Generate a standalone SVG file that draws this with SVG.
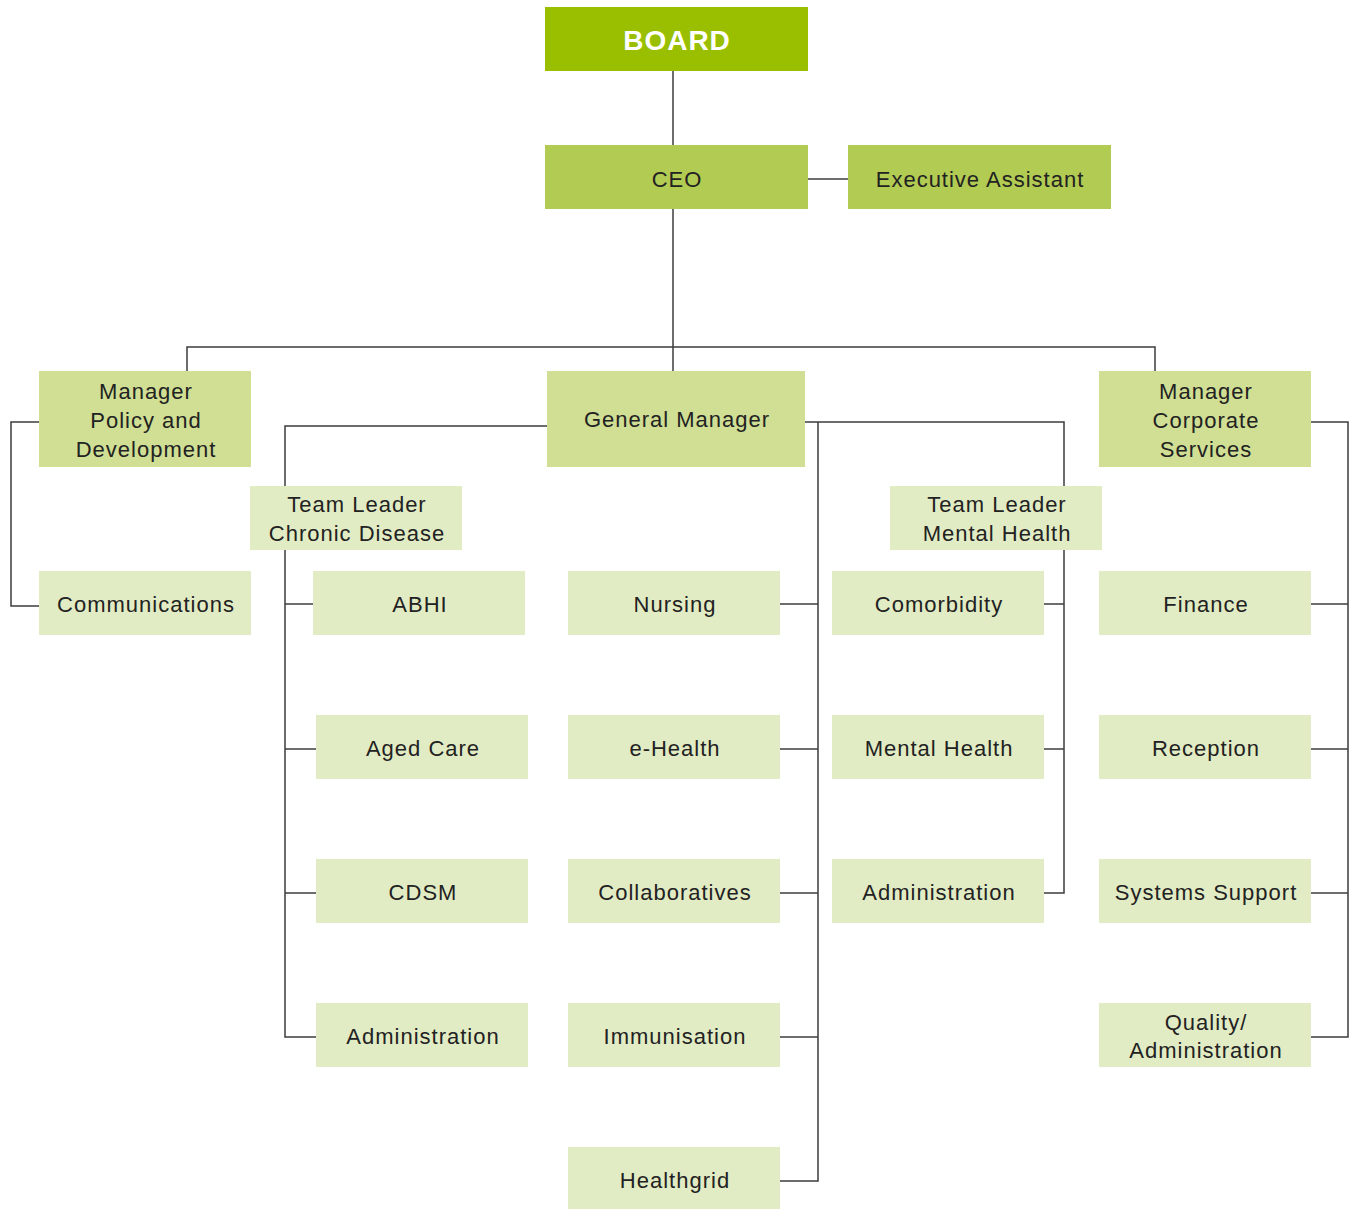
<svg xmlns="http://www.w3.org/2000/svg" width="1357" height="1209" viewBox="0 0 1357 1209">
<style>
  .l1{fill:#99bf00}
  .l2{fill:#b2cb53}
  .l3{fill:#d0df94}
  .l4{fill:#e2ecc4}
  text{font-family:"Liberation Sans",Arial,sans-serif;font-size:22px;letter-spacing:1px;fill:#222;text-anchor:middle}
  .board{font-size:28px;font-weight:bold;fill:#fff}
  .conn{fill:none;stroke:#3c3c3c;stroke-width:1.5}
</style>
<rect width="1357" height="1209" fill="#fff"/>
<g id="connectors" class="conn">
  <path d="M673,71 V145"/>
  <path d="M808,179 H848"/>
  <path d="M673,209 V371"/>
  <path d="M187,371 V347 H1155 V371"/>
  <path d="M39,422 H11 V606 H39"/>
  <path d="M547,426 H285 V1037 H316"/>
  <path d="M285,604 H313"/>
  <path d="M285,749 H316"/>
  <path d="M285,893 H316"/>
  <path d="M805,422 H1064 V893 H1044"/>
  <path d="M818,422 V1181 H780"/>
  <path d="M780,604 H818"/>
  <path d="M780,749 H818"/>
  <path d="M780,893 H818"/>
  <path d="M780,1037 H818"/>
  <path d="M1044,604 H1064"/>
  <path d="M1044,749 H1064"/>
  <path d="M1311,422 H1348 V1037 H1311"/>
  <path d="M1311,604 H1348"/>
  <path d="M1311,749 H1348"/>
  <path d="M1311,893 H1348"/>
</g>
<g id="board"><rect class="l1" x="545" y="7" width="263" height="64"/><text class="board" x="677" y="50">BOARD</text></g>
<g id="ceo"><rect class="l2" x="545" y="145" width="263" height="64"/><text x="677" y="187">CEO</text></g>
<g id="exec-assistant"><rect class="l2" x="848" y="145" width="263" height="64"/><text x="980" y="187">Executive Assistant</text></g>
<g id="manager-pd"><rect class="l3" x="39" y="371" width="212" height="96"/><text x="146" y="399">Manager</text><text x="146" y="428">Policy and</text><text x="146" y="457">Development</text></g>
<g id="general-manager"><rect class="l3" x="547" y="371" width="258" height="96"/><text x="677" y="427">General Manager</text></g>
<g id="manager-cs"><rect class="l3" x="1099" y="371" width="212" height="96"/><text x="1206" y="399">Manager</text><text x="1206" y="428">Corporate</text><text x="1206" y="457">Services</text></g>
<g id="communications"><rect class="l4" x="39" y="571" width="212" height="64"/><text x="146" y="612">Communications</text></g>
<g id="tl-chronic"><rect class="l4" x="250" y="486" width="212" height="64"/><text x="357" y="512">Team Leader</text><text x="357" y="541">Chronic Disease</text></g>
<g id="abhi"><rect class="l4" x="313" y="571" width="212" height="64"/><text x="420" y="612">ABHI</text></g>
<g id="aged-care"><rect class="l4" x="316" y="715" width="212" height="64"/><text x="423" y="756">Aged Care</text></g>
<g id="cdsm"><rect class="l4" x="316" y="859" width="212" height="64"/><text x="423" y="900">CDSM</text></g>
<g id="admin-cd"><rect class="l4" x="316" y="1003" width="212" height="64"/><text x="423" y="1044">Administration</text></g>
<g id="nursing"><rect class="l4" x="568" y="571" width="212" height="64"/><text x="675" y="612">Nursing</text></g>
<g id="ehealth"><rect class="l4" x="568" y="715" width="212" height="64"/><text x="675" y="756">e-Health</text></g>
<g id="collaboratives"><rect class="l4" x="568" y="859" width="212" height="64"/><text x="675" y="900">Collaboratives</text></g>
<g id="immunisation"><rect class="l4" x="568" y="1003" width="212" height="64"/><text x="675" y="1044">Immunisation</text></g>
<g id="healthgrid"><rect class="l4" x="568" y="1147" width="212" height="64"/><text x="675" y="1188">Healthgrid</text></g>
<g id="tl-mental"><rect class="l4" x="890" y="486" width="212" height="64"/><text x="997" y="512">Team Leader</text><text x="997" y="541">Mental Health</text></g>
<g id="comorbidity"><rect class="l4" x="832" y="571" width="212" height="64"/><text x="939" y="612">Comorbidity</text></g>
<g id="mental-health"><rect class="l4" x="832" y="715" width="212" height="64"/><text x="939" y="756">Mental Health</text></g>
<g id="admin-mh"><rect class="l4" x="832" y="859" width="212" height="64"/><text x="939" y="900">Administration</text></g>
<g id="finance"><rect class="l4" x="1099" y="571" width="212" height="64"/><text x="1206" y="612">Finance</text></g>
<g id="reception"><rect class="l4" x="1099" y="715" width="212" height="64"/><text x="1206" y="756">Reception</text></g>
<g id="systems-support"><rect class="l4" x="1099" y="859" width="212" height="64"/><text x="1206" y="900">Systems Support</text></g>
<g id="quality-admin"><rect class="l4" x="1099" y="1003" width="212" height="64"/><text x="1206" y="1030">Quality/</text><text x="1206" y="1058">Administration</text></g>
</svg>
